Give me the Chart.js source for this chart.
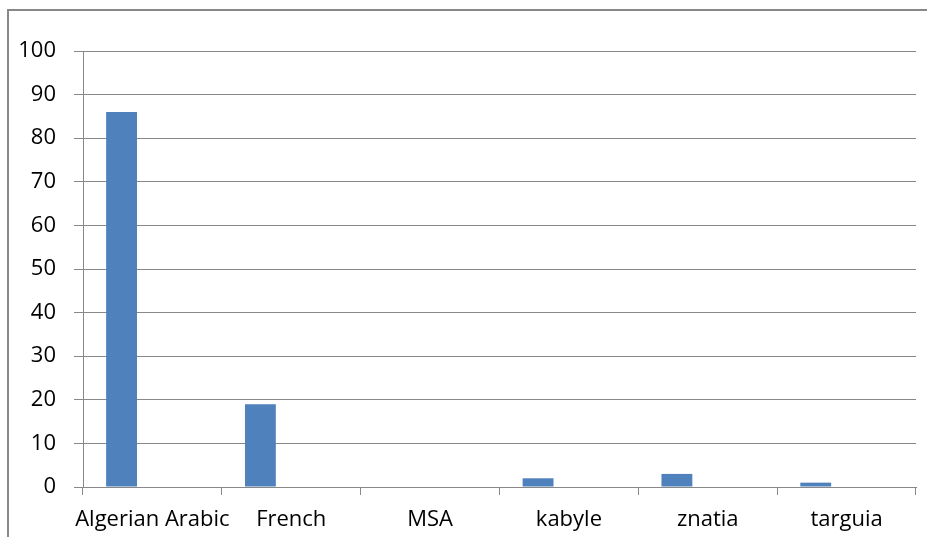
<!DOCTYPE html>
<html>
<head>
<meta charset="utf-8">
<script src="https://cdn.jsdelivr.net/npm/chart.js@4.4.1/dist/chart.umd.min.js"></script>
<style>
  html, body { margin: 0; padding: 0; background: #fff; }
  #wrap { position: relative; width: 927px; height: 537px; }
  #frame {
    position: absolute; left: 7px; top: 9px; right: 0; bottom: 0;
    border-left: 2px solid #888; border-top: 2px solid #888;
  }
  canvas { position: absolute; left: 0; top: 0; }
</style>
</head>
<body>
<div id="wrap">
  <div id="frame"></div>
  <canvas id="chart" width="927" height="537"></canvas>
</div>
<script>
// 语言类别与百分比
const languages = ['Algerian Arabic', 'French', 'MSA', 'kabyle', 'znatia', 'targuia'];
const series1 = [86, 19, 0, 2, 3, 1];
const series2 = [null, null, null, null, null, null];
const series3 = [null, null, null, null, null, null];
const yTicks = [0, 10, 20, 30, 40, 50, 60, 70, 80, 90, 100];

const barColor = '#4F81BD';
const gridColor = '#888888';
const labelFont = { family: "'Open Sans'", size: 22 };

function makeSet(label, data) {
    return {
        label: label,
        data: data,
        backgroundColor: barColor,
        borderWidth: 0,
        categoryPercentage: 3 / 4.5,
        barPercentage: 1
    };
}

const ctx = document.getElementById('chart');
new Chart(ctx, {
    type: 'bar',
    data: {
        labels: languages,
        datasets: [
            makeSet('Series1', series1),
            makeSet('Series2', series2),
            makeSet('Series3', series3)
        ]
    },
    options: {
        responsive: false,
        animation: false,
        layout: { padding: { left: 0, right: 11, top: 51, bottom: 0 } },
        plugins: {
            legend: { display: false },
            tooltip: { enabled: false }
        },
        scales: {
            x: {
                offset: true,
                grid: {
                    offset: true,
                    drawOnChartArea: false,
                    drawTicks: true,
                    tickLength: 8,
                    color: gridColor,
                    lineWidth: 1
                },
                border: { display: true, color: gridColor, width: 1 },
                ticks: {
                    color: '#000',
                    padding: 12,
                    maxRotation: 0,
                    autoSkip: false,
                    font: labelFont
                },
                afterFit: function(scale) { scale.height = 50; }
            },
            y: {
                min: 0,
                max: 100,
                afterBuildTicks: function(scale) {
                    scale.ticks = yTicks.map(v => ({ value: v }));
                },
                grid: {
                    color: gridColor,
                    lineWidth: 1,
                    tickLength: 9
                },
                border: { display: true, color: gridColor, width: 1 },
                ticks: {
                    color: '#000',
                    padding: 18,
                    font: labelFont
                },
                afterFit: function(scale) { scale.width = 83; }
            }
        }
    }
});
</script>
</body>
</html>
